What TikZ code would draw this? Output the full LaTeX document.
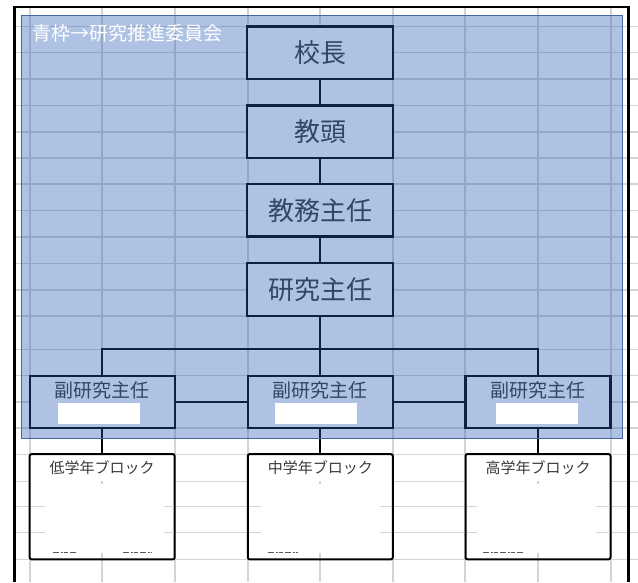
\documentclass[tikz,border=0pt]{standalone}
\usepackage{fontspec}
\setmainfont{Noto Sans CJK JP}
\definecolor{gridc}{RGB}{212,212,212}
\definecolor{bluec}{RGB}{39,90,182}
\definecolor{blueborder}{RGB}{72,102,160}
\definecolor{txt}{RGB}{58,58,58}
\definecolor{frag}{RGB}{90,90,90}
\begin{document}
\begin{tikzpicture}[x=1pt,y=-1pt,
  grid/.style={draw=gridc, line width=1.2pt},
  edge/.style={draw=black, line width=2.4pt},
  mainbox/.style={draw=black, fill=white, line width=2.2pt, minimum width=146pt, minimum height=52.5pt, inner sep=0pt, text=txt, font=\fontsize{26}{30}\selectfont},
  subbox/.style={draw=black, fill=white, line width=2.2pt, minimum width=145pt, minimum height=52pt, inner sep=0pt},
  subtext/.style={inner sep=0pt, text=txt, font=\fontsize{19}{22}\selectfont},
  lowbox/.style={draw=black, fill=white, line width=2pt, rounded corners=2pt, minimum width=145pt, minimum height=105.3pt, inner sep=0pt},
  lowtext/.style={inner sep=0pt, text=txt, font=\fontsize{15}{18}\selectfont},
  conn/.style={draw=black, line width=2.2pt, line cap=rect},
  bluefield/.style={draw=blueborder, fill=bluec, fill opacity=0.37, line width=0.9pt, minimum width=601pt, minimum height=423pt, inner sep=0pt},
  hidebox/.style={fill=white, minimum width=82pt, minimum height=21.3pt, inner sep=0pt},
  fragline/.style={draw=frag, line width=1.6pt, dash pattern=on 6pt off 1.5pt on 2pt off 1.5pt on 4pt off 2pt},
]
\useasboundingbox (0,0) rectangle (638,582);
% worksheet grid
\foreach \x in {30,102,175,248,320,393,465,538,611}
  \draw[grid] (\x,7) -- (\x,582);
\foreach \y in {26.3,52.6,79,105.7,132,158,184,210.5,237,263.3,290,316,349.3,375.7,402,428,454.7,481.7,506.7,532.7,559.3}
  \draw[grid] (15,\y) -- (638,\y);
% sheet border
\draw[edge] (14.5,582) -- (14.5,7);
\draw[black, line width=2pt] (13.3,7) -- (630,7);
\draw[black, line width=3.3pt] (628.3,6) -- (628.3,582);

% main chain
\node[mainbox] (kocho) at (320.3,52.7) {校長};
\node[mainbox] (kyoto) at (320.3,131.8) {教頭};
\node[mainbox] (kyomu) at (320.3,210.3) {教務主任};
\node[mainbox] (kenkyu) at (320.3,289.6) {研究主任};
% sub leaders
\node[subbox] (s1) at (102.2,401.7) {};
\node[subbox] (s2) at (320.3,401.7) {};
\node[subbox] (s3) at (538,401.7) {};
\node[subtext] (s1t) at (102.2,390) {副研究主任};
\node[subtext] (s2t) at (320.3,390) {副研究主任};
\node[subtext] (s3t) at (538,390) {副研究主任};
% blocks
\node[lowbox] (l1) at (102.2,506.7) {};
\node[lowbox] (l2) at (320.3,506.7) {};
\node[lowbox] (l3) at (538,506.7) {};
\node[lowtext] (l1t) at (102.2,468) {低学年ブロック};
\node[lowtext] (l2t) at (320.3,468) {中学年ブロック};
\node[lowtext] (l3t) at (538,468) {高学年ブロック};

% connectors
\coordinate (b1) at (102.2,349);
\coordinate (b3) at (538,349);
\draw[conn] (kocho) -- (kyoto);
\draw[conn] (kyoto) -- (kyomu);
\draw[conn] (kyomu) -- (kenkyu);
\draw[conn] (kenkyu) -- (s2);
\draw[conn] (b1) -- (b3);
\draw[conn] (b1) -- (s1.north);
\draw[conn] (b3) -- (s3.north);
\draw[conn] (s1.east) -- (s2.west);
\draw[conn] (s2.east) -- (s3.west);
\draw[conn] (s1.south) -- (l1.north);
\draw[conn] (s2.south) -- (l2.north);
\draw[conn] (s3.south) -- (l3.north);

% grid fragments visible inside the block boxes
\foreach \y in {506.7,532.7} {
  \draw[grid] (31.2,\y) -- (45,\y);  \draw[grid] (164,\y) -- (173.6,\y);
  \draw[grid] (249,\y) -- (260.7,\y); \draw[grid] (380,\y) -- (391.7,\y);
  \draw[grid] (466.6,\y) -- (476.7,\y); \draw[grid] (596,\y) -- (609.5,\y);
}
\foreach \x in {102,320,538} {
  \draw[grid] (\x,480.5) -- (\x,484);
  \draw[grid] (\x,553) -- (\x,558.2);
}
% clipped text remnants
\draw[fragline] (53,552.5) -- (77,552.5);
\draw[fragline] (123,552.5) -- (152,552.5);
\draw[fragline] (268,552.5) -- (298,552.5);
\draw[fragline] (483,552.5) -- (523,552.5);

% committee frame
\node[bluefield] (iinkai) at (321.5,226.5) {};
\node[anchor=west, inner sep=0pt, text=white, font=\fontsize{19}{22}\selectfont] (title) at (32,33) {青枠→研究推進委員会};
\node[hidebox] (s1w) at (99,413.3) {};
\node[hidebox] (s2w) at (316,413.3) {};
\node[hidebox] (s3w) at (536.8,413.3) {};
\end{tikzpicture}
\end{document}
